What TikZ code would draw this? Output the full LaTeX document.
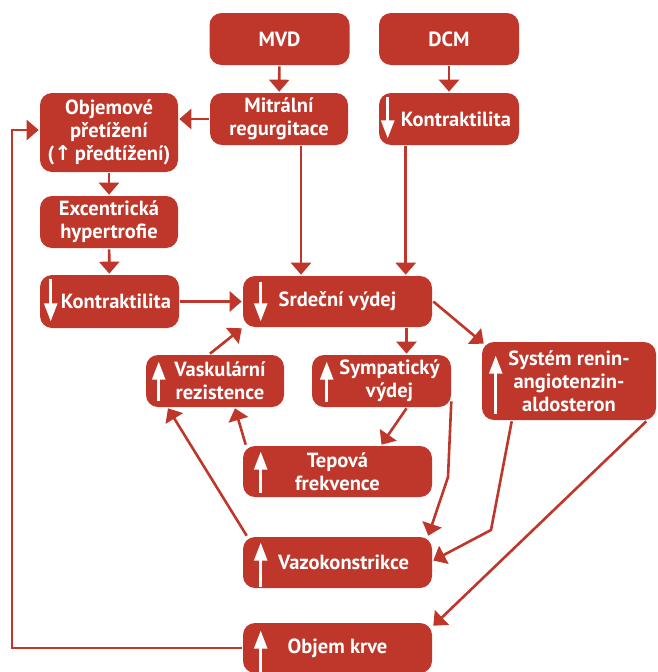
\documentclass[tikz,border=0pt]{standalone}
\usepackage{fontspec}
\setmainfont{PT Sans}
\newfontfamily\symfont{DejaVu Sans}
\usepackage{xcolor}
\definecolor{boxred}{RGB}{190,55,42}
\usetikzlibrary{arrows.meta}

\begin{document}
\begin{tikzpicture}[x=1pt, y=-1pt, line width=2.6pt, draw=boxred]
		\tikzstyle{box}=[rectangle, rounded corners=12pt, fill=boxred, text=white, align=center, inner sep=1pt, font=\bfseries\fontsize{20.5}{23}\selectfont]
		\tikzstyle{whitearrow}=[draw=white, line width=2.6pt, rounded corners=0pt, -{Triangle[width=13pt,length=18pt]}]
		\tikzset{>={Triangle[width=20pt,length=12pt]}}
		\useasboundingbox (0,0) rectangle (658,672);
		
		\node[box, minimum width=140, minimum height=52] (mvd) at (279.5,39) {MVD};
		\node[box, minimum width=140, minimum height=52] (dcm) at (449,39) {DCM};
		
		\node[box, minimum width=138, minimum height=52] (mr) at (279,119) {Mitrální\\regurgitace};
		\node[box, minimum width=140, minimum height=52] (kd) at (449,119) {\hspace*{14pt}Kontraktilita};
		\draw[whitearrow] ([xshift=10pt,yshift=-5pt]kd.north west) -- ([xshift=10pt,yshift=8pt]kd.south west);
		
		\node[box, minimum width=138, minimum height=79] (op) at (109,132.5) {Objemové\\přetížení\\({\symfont ↑}\,předtížení)};
		\node[box, minimum width=138, minimum height=52] (eh) at (109,222) {Excentrická\\hypertrofie};
		\node[box, minimum width=139, minimum height=53] (kl) at (109.5,301.5) {\hspace*{13pt}Kontraktilita};
		\draw[whitearrow] ([xshift=12pt,yshift=-5pt]kl.north west) -- ([xshift=12pt,yshift=8pt]kl.south west);
		
		\node[box, minimum width=189, minimum height=51] (sv) at (337.5,301.5) {Srdeční výdej};
		\draw[whitearrow] ([xshift=19pt,yshift=-7pt]sv.north west) -- ([xshift=19pt,yshift=7pt]sv.south west);
		
		\node[box, minimum width=138, minimum height=52] (vr) at (215,381) {\hspace*{10pt}Vaskulární\\\hspace*{10pt}rezistence};
		\draw[whitearrow] ([xshift=14pt,yshift=7pt]vr.south west) -- ([xshift=14pt,yshift=-8pt]vr.north west);
		
		\node[box, minimum width=139, minimum height=52] (sy) at (381.5,381) {\hspace*{16pt}Sympatický\\\hspace*{16pt}výdej};
		\draw[whitearrow] ([xshift=16pt,yshift=6pt]sy.south west) -- ([xshift=16pt,yshift=-8pt]sy.north west);
		
		\node[box, minimum width=174, minimum height=78] (raa) at (569,381) {Systém renin-\\angiotenzin-\\aldosteron};
		\draw[whitearrow] ([xshift=15pt,yshift=7pt]raa.south west) -- ([xshift=15pt,yshift=-15pt]raa.north west);
		
		\node[box, minimum width=189, minimum height=51] (tf) at (337.5,471.5) {Tepová\\frekvence};
		\draw[whitearrow] ([xshift=19pt,yshift=5pt]tf.south west) -- ([xshift=19pt,yshift=-7pt]tf.north west);
		
		\node[box, minimum width=189, minimum height=51] (vk) at (337.5,562.5) {\hspace*{12pt}Vazokonstrikce};
		\draw[whitearrow] ([xshift=19pt,yshift=2pt]vk.south west) -- ([xshift=19pt,yshift=-7pt]vk.north west);
		
		\node[box, minimum width=189, minimum height=50] (ok) at (337.5,648) {Objem krve};
		\draw[whitearrow] ([xshift=19pt,yshift=-2pt]ok.south west) -- ([xshift=19pt,yshift=-9pt]ok.north west);
		
		% top part
		\draw[->] (mvd) -- (mr);
		\draw[->] (dcm) -- (kd);
		\draw[->] (mr.west) -- (mr.west -| op.east);
		\draw[->] (op) -- (eh);
		\draw[->] (eh) -- (kl);
		\draw[->] (kl) -- (sv);
		\draw[->] ([xshift=22pt]mr.south) -- ([xshift=22pt]mr.south |- sv.north);
		\draw[->] ([xshift=28pt]kd.south west) -- ([xshift=28pt]kd.south west |- sv.north);
		
		% srdecni vydej
		\draw[->] ([xshift=25pt]sy.north |- sv.south) -- ([xshift=25pt]sy.north);
		\draw[->] (sv.east) -- ([xshift=3pt,yshift=-3pt]raa.north west);
		\draw[->] ([xshift=-5pt]vr.north) -- (sv.south west);
		
		% lower part
		\coordinate (sybend) at (448,477);
		\coordinate (raabend) at (491,530);
		\draw[->] ([xshift=25pt]sy.south) -- ([xshift=44pt]tf.north);
		\draw[->] ([xshift=-1pt,yshift=7pt]sy.south east) -- (sybend) -- ([xshift=-5pt]vk.north east);
		\draw[->] ([xshift=31pt]raa.south west) -- (raabend) -- ([yshift=2pt]vk.east);
		\draw[->] ([xshift=-11pt]raa.south east) -- ([yshift=-4pt]ok.north east);
		\draw[->] ([xshift=4pt]tf.north west) -- ([xshift=20pt]vr.south);
		\draw[->] ([xshift=5pt]vk.north west) -- ([xshift=-47pt]vr.south);
		
		%zpetna vazba
		\coordinate (loop) at (12,130);
		\draw[->] (ok.west) -| (loop) -- (loop -| op.west);
	\end{tikzpicture}
\end{document}
